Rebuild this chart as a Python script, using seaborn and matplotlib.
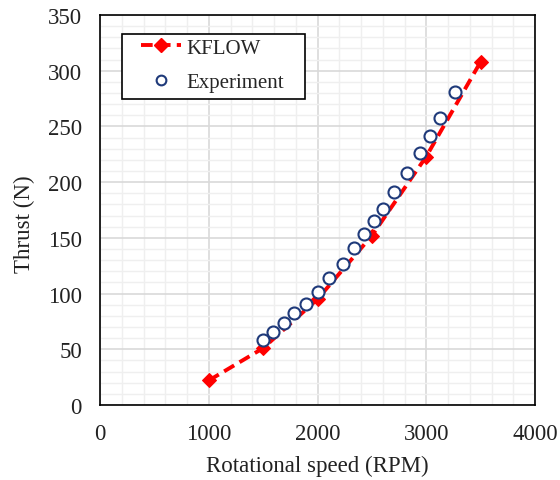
import matplotlib
matplotlib.use("Agg")
import matplotlib.pyplot as plt
import seaborn as sns
import pandas as pd
from matplotlib.ticker import MultipleLocator
from matplotlib.lines import Line2D
from matplotlib.patches import Rectangle

kflow_rpm = [1000, 1500, 2000, 2500, 3000, 3500]
kflow_thrust = [22, 51, 95, 152, 223, 308]

exp_rpm = [1500, 1595, 1690, 1785, 1890, 2000, 2105, 2230, 2335, 2430, 2520,
           2600, 2705, 2820, 2945, 3035, 3130, 3265]
exp_thrust = [58, 65.5, 74, 83, 91, 101.5, 114, 126.5, 140.5, 153.5, 165,
              176, 191, 208, 226, 241, 257.5, 280.5]

sns.set_theme(style="white")
plt.rcParams['font.family'] = ['Liberation Serif', 'DejaVu Serif']

W, H = 560, 481
fig = plt.figure(figsize=(W / 100, H / 100), dpi=100)
ax = fig.add_axes([100 / W, 1 - 406 / H, 435 / W, 390 / H])

ax.xaxis.set_major_locator(MultipleLocator(1000))
ax.xaxis.set_minor_locator(MultipleLocator(200))
ax.yaxis.set_major_locator(MultipleLocator(50))
ax.yaxis.set_minor_locator(MultipleLocator(10))
ax.grid(which='minor', color='#efefef', linewidth=1.0)
ax.grid(which='major', color='#d9d9d9', linewidth=1.2)
ax.set_axisbelow(True)

kdf = pd.DataFrame({"rpm": kflow_rpm, "thrust": kflow_thrust})
edf = pd.DataFrame({"rpm": exp_rpm, "thrust": exp_thrust})

sns.lineplot(data=kdf, x="rpm", y="thrust", ax=ax, color='#ff0000',
             linewidth=2.8, linestyle=(0, (3, 1.6)), marker='D', markersize=7,
             markeredgecolor='#ff0000', zorder=3)
sns.scatterplot(data=edf, x="rpm", y="thrust", ax=ax, s=75, facecolor='white',
                edgecolor='#1f3a7a', linewidth=1.5, zorder=4)

ax.set_xlim(0, 4000)
ax.set_ylim(0, 350)
ax.set_xlabel("Rotational speed (RPM)", fontsize=16.5, color='#222222', labelpad=8)
ax.set_ylabel("Thrust (N)", fontsize=16.5, color='#222222', labelpad=9)
ax.yaxis.label.set_y(0.467)
ax.tick_params(axis='both', which='both', length=0, labelsize=16.5,
               labelcolor='#222222', pad=13)

for s in ax.spines.values():
    s.set_color('#000000')
    s.set_linewidth(1.2)

# legend frame
fig.patches.append(Rectangle((122 / W, 1 - 100 / H), 183 / W, 65 / H,
                             transform=fig.transFigure, facecolor='white',
                             edgecolor='black', linewidth=1.2, zorder=5))

handles = [
    Line2D([0], [0], color='#ff0000', linewidth=2.8, linestyle=(0, (3, 1.6)),
           marker='D', markersize=7),
    Line2D([0], [0], linestyle='none', marker='o', markersize=7,
           markerfacecolor='white', markeredgecolor='#1f3a7a', markeredgewidth=1.5),
]
leg = fig.legend(handles, ["KFLOW", "Experiment"], loc='upper left',
                 bbox_to_anchor=(141 / W, 1 - 39 / H), fontsize=15, frameon=False,
                 handlelength=1.9, handletextpad=0.3,
                 borderpad=0, labelspacing=0.72, borderaxespad=0)
leg.set_zorder(6)

fig.savefig("out.png", dpi=100)
